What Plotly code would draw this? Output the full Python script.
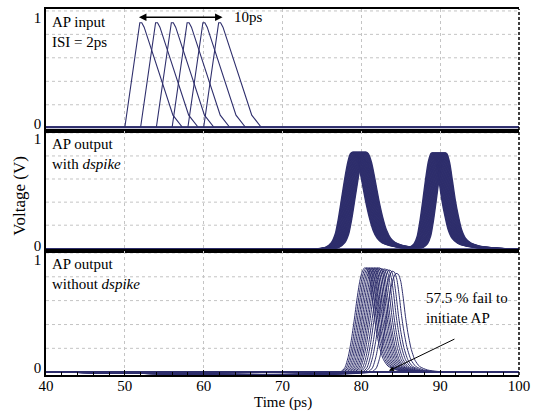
import plotly.graph_objects as go
from plotly.subplots import make_subplots

# ---------------- data ----------------
# AP input pulses (top panel): pulse shape relative to its start, and start times (ISI = 2 ps)
ap_in_rel_t = [0.0, 1.9, 2.15, 2.45, 6.1, 7.3]
ap_in_v = [0.0, 0.95, 0.95, 0.91, 0.11, 0.0]
ap_in_starts = [50, 52, 54, 56, 58, 60]

# AP output with dspike (middle panel): earliest trace and per-trace delays
mid_t = [73.0, 74.5, 75.5, 76.2, 76.7, 77.1, 77.5, 77.9, 78.3, 78.6, 78.9, 79.2, 79.6,
         80.0, 80.5, 81.0, 81.5, 82.0, 82.6, 83.5, 84.5, 85.5, 86.2, 86.7, 87.1, 87.45,
         87.8, 88.15, 88.5, 88.85, 89.15, 89.5, 89.85, 90.2, 90.6, 91.0, 91.5, 92.2,
         93.2, 94.5, 96.0, 98.0]
mid_v = [0.0, 0.005, 0.02, 0.06, 0.14, 0.28, 0.46, 0.64, 0.79, 0.86, 0.875, 0.86, 0.78,
         0.64, 0.45, 0.29, 0.17, 0.10, 0.06, 0.035, 0.02, 0.012, 0.02, 0.05, 0.12, 0.26,
         0.44, 0.63, 0.79, 0.865, 0.86, 0.78, 0.62, 0.45, 0.30, 0.18, 0.10, 0.055,
         0.03, 0.015, 0.006, 0.0]
mid_delays = [0.0, 0.09, 0.18, 0.27, 0.36, 0.45, 0.54, 0.63, 0.72, 0.81,
              0.9, 0.99, 1.08, 1.17, 1.26, 1.35, 1.44, 1.53, 1.62, 1.7]

# AP output without dspike (bottom panel): normalised spike shape around its rise midpoint
bot_rel_t = [-1.8, -1.2, -0.75, -0.38, 0.0, 0.35, 0.7, 1.0, 1.3, 1.6, 1.9, 2.2, 2.5,
             2.8, 3.2, 3.7, 4.3, 5.3, 6.5, 8.0]
bot_v = [0.0, 0.04, 0.15, 0.3, 0.5, 0.7, 0.87, 0.96, 1.0, 0.99, 0.92, 0.76, 0.56,
         0.4, 0.24, 0.12, 0.055, 0.02, 0.006, 0.0]
out_rise = [79.1, 79.3, 79.5, 79.7, 79.9, 80.1, 80.3, 80.5, 80.7, 80.9, 81.1, 81.35,
            81.6, 81.9, 82.2, 82.6, 83.1]
out_peak = [0.93, 0.93, 0.93, 0.93, 0.93, 0.93, 0.93, 0.93, 0.93, 0.93, 0.925, 0.92,
            0.92, 0.915, 0.91, 0.90, 0.88]

x_ticks = [40, 50, 60, 70, 80, 90, 100]
y_tick_labels = ["0", "1"]
t_span = [40, 100]

# ---------------- figure ----------------
NAVY = "#2e2e6c"
FONT = "Liberation Serif"

fig = make_subplots(rows=3, cols=1, shared_xaxes=True, vertical_spacing=0)

# baselines
for r in (1, 2, 3):
    fig.add_trace(go.Scatter(x=t_span, y=[0, 0], mode="lines",
                             line=dict(color=NAVY, width=2.2), hoverinfo="skip"),
                  row=r, col=1)

# top panel
for s in ap_in_starts:
    xs = [t_span[0]] + [s + t for t in ap_in_rel_t] + [t_span[1]]
    ys = [0] + ap_in_v + [0]
    fig.add_trace(go.Scatter(x=xs, y=ys, mode="lines",
                             line=dict(color=NAVY, width=1.1)), row=1, col=1)

# middle panel
for d in mid_delays:
    xs = [t_span[0]] + [t + d for t in mid_t] + [t_span[1]]
    ys = [0] + mid_v + [0]
    fig.add_trace(go.Scatter(x=xs, y=ys, mode="lines",
                             line=dict(color=NAVY, width=1.4, shape="spline", smoothing=0.6)),
                  row=2, col=1)

# bottom panel
for tm, pk in zip(out_rise, out_peak):
    xs = [t_span[0]] + [tm + t for t in bot_rel_t] + [t_span[1]]
    ys = [0] + [pk * v for v in bot_v] + [0]
    fig.add_trace(go.Scatter(x=xs, y=ys, mode="lines",
                             line=dict(color=NAVY, width=1.0, shape="spline", smoothing=0.6)),
                  row=3, col=1)

domains = [[0.6667, 1.0], [0.3388, 0.6667], [0.0, 0.3388]]
yranges = [[-0.034, 1.075], [-0.016, 1.066], [-0.027, 1.08]]

for i in range(3):
    yn = "yaxis" if i == 0 else f"yaxis{i+1}"
    fig.layout[yn].update(domain=domains[i], range=yranges[i], tickvals=[0.035, 1.0],
                          ticktext=y_tick_labels, showgrid=False, automargin=False,
                          zeroline=False, showline=True, linecolor="black", linewidth=1.5,
                          ticks="", tickfont=dict(family=FONT, size=15, color="black"),
                          fixedrange=True)
    xn = "xaxis" if i == 0 else f"xaxis{i+1}"
    fig.layout[xn].update(range=t_span, showgrid=True, gridcolor="#c4c4c4", griddash="dot",
                          gridwidth=1, tickvals=x_ticks, zeroline=False, showline=True,
                          mirror=True, linecolor="black", linewidth=1.5, automargin=False)

fig.layout.xaxis3.update(ticks="inside", ticklen=5, tickcolor="black", tickwidth=1,
                         minor=dict(dtick=2, ticks="inside", ticklen=3, tickcolor="black",
                                    showgrid=False),
                         ticklabelstandoff=-4,
                         tickfont=dict(family=FONT, size=15, color="black"))

# horizontal dotted grid lines in each panel
grid_fracs = [0.215, 0.407, 0.6, 0.792, 0.984]
shapes = []
for i in range(3):
    yref = "y domain" if i == 0 else f"y{i+1} domain"
    xref = "x domain" if i == 0 else f"x{i+1} domain"
    for f in grid_fracs:
        shapes.append(dict(type="line", xref=xref, yref=yref, x0=0, x1=1, y0=f, y1=f,
                           line=dict(color="#c4c4c4", width=1, dash="dot"), layer="below"))
# dashed right border
shapes.append(dict(type="line", xref="paper", yref="paper", x0=1, x1=1, y0=0, y1=1,
                   line=dict(color="black", width=1.5, dash="3px,2px")))

ann_font = dict(family=FONT, size=15, color="black")
annotations = [
    dict(xref="x domain", yref="y domain", x=0.008, y=0.975, xanchor="left", yanchor="top",
         text="AP input<br>ISI = 2ps", showarrow=False, align="left", font=ann_font),
    dict(xref="x2 domain", yref="y2 domain", x=0.008, y=0.975, xanchor="left", yanchor="top",
         text="AP output<br>with <i>dspike</i>", showarrow=False, align="left", font=ann_font),
    dict(xref="x3 domain", yref="y3 domain", x=0.008, y=0.975, xanchor="left", yanchor="top",
         text="AP output<br>without <i>dspike</i>", showarrow=False, align="left", font=ann_font),
    dict(xref="x", yref="y", x=62.4, y=1.0, ax=51.6, ay=1.0, axref="x", ayref="y",
         text="", showarrow=True, arrowhead=2, arrowside="end+start", arrowsize=1,
         arrowwidth=1.5, arrowcolor="black"),
    dict(xref="x domain", yref="y domain", x=0.394, y=0.934, xanchor="left", yanchor="middle",
         text="10ps", showarrow=False, font=ann_font),
    dict(xref="x3", yref="y3", x=83.5, y=0.01, ax=92.0, ay=0.30, axref="x3", ayref="y3",
         text="", showarrow=True, arrowhead=2, arrowsize=1, arrowwidth=1, arrowcolor="black"),
    dict(xref="x3 domain", yref="y3 domain", x=0.80, y=0.38, xanchor="left", yanchor="bottom",
         text="57.5 % fail to<br>initiate AP", showarrow=False, align="left", font=ann_font),
    dict(xref="paper", yref="paper", x=-0.055, y=0.49, text="Voltage (V)", textangle=-90,
         showarrow=False, font=dict(family=FONT, size=17, color="black"),
         xanchor="center", yanchor="middle"),
    dict(xref="paper", yref="paper", x=0.5, y=-0.075, text="Time (ps)",
         showarrow=False, font=ann_font, xanchor="center", yanchor="middle"),
]

fig.update_layout(width=534, height=414, margin=dict(l=46, r=15, t=9, b=39, autoexpand=False),
                  paper_bgcolor="white", plot_bgcolor="white", showlegend=False,
                  shapes=shapes, annotations=annotations, font=dict(family=FONT))

# remove the page's default body margin so the figure fills the 534x414 window
fig.write_html("out.html", config={"displayModeBar": False},
               post_script="document.body.style.margin='0';document.body.style.overflow='hidden';")
